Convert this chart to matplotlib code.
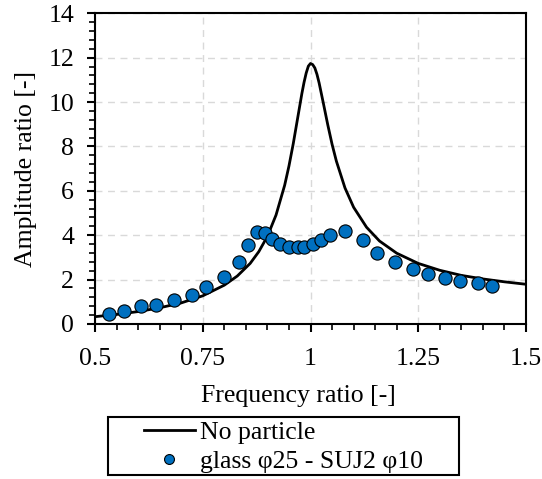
import matplotlib.pyplot as plt
from matplotlib.patches import Rectangle
from matplotlib.ticker import MultipleLocator, FuncFormatter

plt.rcParams['font.family'] = 'Liberation Serif'
plt.rcParams['font.size'] = 18.5

# No particle (curve)
line_x = [0.50, 0.55, 0.60, 0.65, 0.70, 0.75, 0.80, 0.83, 0.86, 0.88,
          0.90, 0.92, 0.94, 0.95, 0.96, 0.97, 0.98, 0.985, 0.99, 0.995,
          1.00, 1.005, 1.01, 1.015, 1.02, 1.03, 1.04, 1.05, 1.06, 1.08,
          1.10, 1.13, 1.16, 1.20, 1.25, 1.30, 1.35, 1.40, 1.45, 1.50]
line_y = [0.33, 0.43, 0.56, 0.73, 0.95, 1.27, 1.75, 2.16, 2.73, 3.26,
          3.95, 4.91, 6.25, 7.12, 8.13, 9.26, 10.39, 10.89, 11.31, 11.62,
          11.74, 11.69, 11.54, 11.25, 10.86, 9.93, 8.98, 8.10, 7.34, 6.13,
          5.26, 4.36, 3.74, 3.19, 2.73, 2.42, 2.19, 2.03, 1.90, 1.79]

# glass φ25 - SUJ2 φ10
pt_x = [0.533, 0.567, 0.607, 0.641, 0.683, 0.724, 0.758, 0.799, 0.834, 0.855,
        0.875, 0.895, 0.911, 0.930, 0.950, 0.971, 0.985, 1.005, 1.025, 1.046,
        1.080, 1.122, 1.155, 1.196, 1.237, 1.272, 1.313, 1.347, 1.389, 1.422]
pt_y = [0.45, 0.60, 0.81, 0.87, 1.08, 1.31, 1.65, 2.13, 2.79, 3.55,
        4.16, 4.09, 3.82, 3.61, 3.48, 3.46, 3.48, 3.62, 3.80, 4.00,
        4.18, 3.79, 3.20, 2.78, 2.47, 2.25, 2.09, 1.95, 1.83, 1.73]

fig = plt.figure(figsize=(5.42, 4.79), dpi=100)
ax = fig.add_axes([0.1753, 0.3236, 0.7952, 0.6486])

ax.plot(line_x, line_y, color='black', lw=2.0, label='No particle', zorder=3)
ax.plot(pt_x, pt_y, 'o', color='#0070C0', mec='black', mew=0.8, ms=9.5,
        label='glass φ25 - SUJ2 φ10', zorder=4)

ax.set_xlim(0.5, 1.5)
ax.set_ylim(0, 14)
ax.xaxis.set_major_locator(MultipleLocator(0.25))
ax.xaxis.set_minor_locator(MultipleLocator(0.05))
ax.yaxis.set_major_locator(MultipleLocator(2))
ax.yaxis.set_minor_locator(MultipleLocator(0.4))
ax.xaxis.set_major_formatter(FuncFormatter(lambda v, p: '%g' % v))

ax.grid(True, which='major', color='#d9d9d9', ls=(0, (5, 4)), lw=1)
ax.set_axisbelow(True)
for s in ax.spines.values():
    s.set_linewidth(1.5)
ax.tick_params(which='major', direction='out', length=6, width=1.5)
ax.tick_params(which='minor', direction='out', length=4, width=1.2)
ax.tick_params(axis='x', which='major', pad=11)
ax.tick_params(axis='y', which='major', pad=9)

ax.set_xlabel('Frequency ratio [-]')
ax.set_ylabel('Amplitude ratio [-]')
ax.xaxis.set_label_coords(0.471, -0.196)
ax.yaxis.set_label_coords(-0.135, 0.5)

leg = fig.legend(loc='center', bbox_to_anchor=(283.5 / 542, 1 - 447 / 479),
                 frameon=False, handlelength=2.0, handletextpad=0.2,
                 labelspacing=0.25, borderpad=0, markerscale=0.75)
fig.patches.append(Rectangle((108 / 542, 1 - 475 / 479), 351 / 542, 58 / 479,
                             transform=fig.transFigure, fill=False,
                             ec='black', lw=1.5))

fig.savefig('out.png', dpi=100)
